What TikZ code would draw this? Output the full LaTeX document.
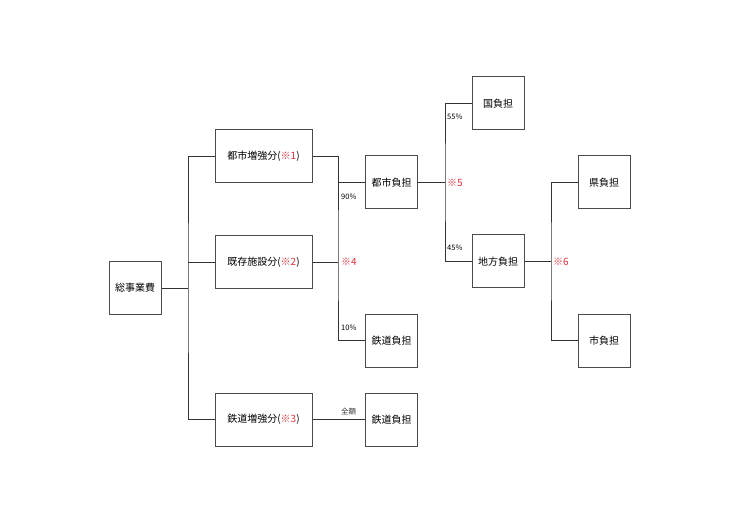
\documentclass[tikz,border=0pt]{standalone}
\usepackage{fontspec}
\setmainfont{Noto Sans CJK JP}
\usepackage{tikz}
\usetikzlibrary{positioning, calc}
\definecolor{notered}{HTML}{E0303A}
\definecolor{boxgray}{HTML}{4A4A4A}
\definecolor{linegray}{HTML}{333333}

\begin{document}
\begin{tikzpicture}[
    x=1pt, y=-1pt,
    box/.style={
      rectangle, draw=boxgray, line width=1pt, fill=white,
      font=\fontsize{10}{12}\selectfont, minimum height=53pt, inner sep=2pt
    },
    wide/.style={box, minimum width=97pt},
    small/.style={box, minimum width=52pt},
    link/.style={linegray, line width=0.9pt},
    pct/.style={font=\fontsize{7.5}{8}\selectfont, inner sep=1pt, anchor=west},
    note/.style={font=\fontsize{10}{12}\selectfont, text=notered, inner sep=1pt, anchor=west},
  ]
  \useasboundingbox (0,0) rectangle (740,524);

  % boxes
  \node[small] (total) at (135,288) {総事業費};
  \node[wide] (cityup) at (263.5,156.5) {都市増強分(\textcolor{notered}{※1})};
  \node[wide] (exist) at (263.5,262) {既存施設分(\textcolor{notered}{※2})};
  \node[wide] (railup) at (263.5,419.5) {鉄道増強分(\textcolor{notered}{※3})};
  \node[small] (citycost) at (391.5,182.5) {都市負担};
  \node[small] (railcost) at (391.5,340.5) {鉄道負担};
  \node[small] (railfull) at (391.5,419.5) {鉄道負担};
  \node[small] (nation) at (498,103.5) {国負担};
  \node[small] (local) at (498,261.5) {地方負担};
  \node[small] (pref) at (604,182.5) {県負担};
  \node[small] (muni) at (604,340.5) {市負担};

  % branch points
  \coordinate (b1) at (188,288);
  \coordinate (b2) at (338,262);
  \coordinate (b3) at (445,182.5);
  \coordinate (b4) at (551,261.5);

  % connectors
  \draw[link] (total.east) -- (b1);
  \draw[link] (cityup.west) -| (b1) |- (railup.west);
  \draw[link] (exist.west) -- (exist.west -| b1);

  \draw[link] (cityup.east) -| (b2) |- (railcost.west);
  \draw[link] (exist.east) -- (b2);
  \draw[link] (citycost.west) -- (citycost.west -| b2);
  \draw[link] (railup.east) -- (railfull.west)
    node[pos=0.69, above=1pt, font=\fontsize{7.5}{8}\selectfont] {全額};

  \draw[link] (citycost.east) -- (b3);
  \draw[link] (nation.west) -| (b3) |- (local.west);

  \draw[link] (local.east) -- (b4);
  \draw[link] (pref.west) -| (b4) |- (muni.west);

  % labels
  \node[pct] (p90) at (340,197) {90\%};
  \node[pct] (p10) at (340,328) {10\%};
  \node[note] (n4) at (340,262) {※4};
  \node[pct] (p55) at (446,117) {55\%};
  \node[pct] (p45) at (446,248) {45\%};
  \node[note] (n5) at (446,182.5) {※5};
  \node[note] (n6) at (552,261.5) {※6};
\end{tikzpicture}
\end{document}
